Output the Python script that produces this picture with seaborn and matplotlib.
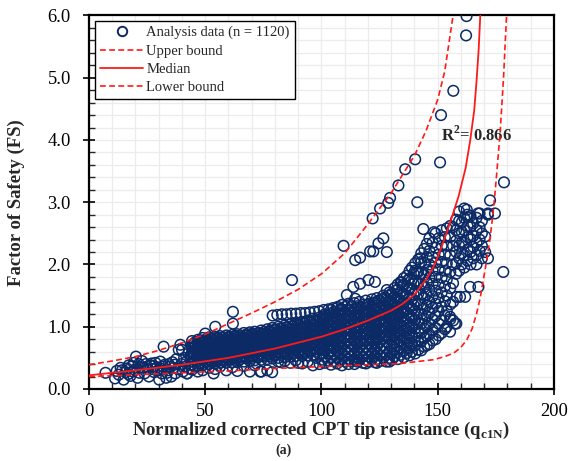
import matplotlib
matplotlib.use("Agg")
import matplotlib.pyplot as plt
from matplotlib.lines import Line2D
from matplotlib.ticker import MultipleLocator, FormatStrFormatter
import pandas as pd
import seaborn as sns

# ---- values ----
# sparse cluster at low tip resistance
low_pts = [(7.1, 0.26), (11.2, 0.17), (11.9, 0.29), (12.8, 0.23), (13.6, 0.34), (14.2, 0.30),
           (14.9, 0.15), (15.7, 0.27), (16.3, 0.33), (16.9, 0.24), (17.1, 0.38), (17.8, 0.21),
           (18.4, 0.36), (18.9, 0.28), (19.2, 0.42), (19.6, 0.31), (20.2, 0.52), (20.9, 0.18),
           (21.4, 0.40), (21.7, 0.26), (22.1, 0.35), (22.8, 0.45), (23.3, 0.34), (23.9, 0.25),
           (24.4, 0.40), (24.9, 0.36), (25.1, 0.32), (25.8, 0.20), (26.3, 0.38), (26.9, 0.41),
           (27.4, 0.32), (27.8, 0.37), (28.1, 0.27), (28.6, 0.42), (29.3, 0.35), (29.8, 0.30),
           (30.2, 0.15), (30.7, 0.44), (30.9, 0.33), (31.3, 0.25), (31.8, 0.36), (32.1, 0.68),
           (32.6, 0.39), (33.2, 0.18), (33.6, 0.26), (33.8, 0.30), (34.3, 0.40), (34.9, 0.36),
           (35.4, 0.20), (35.9, 0.43), (36.4, 0.34), (36.8, 0.39), (37.1, 0.25), (37.6, 0.48),
           (38.2, 0.32), (38.6, 0.63), (39.3, 0.71), (39.7, 0.40), (40.0, 0.63), (40.4, 0.28),
           (40.9, 0.50), (41.5, 0.36), (42.1, 0.45), (42.2, 0.25), (42.7, 0.57), (43.2, 0.33),
           (43.6, 0.52)]

# main band, one column of FS values per qc1N value
band_a = [(44.3, [0.31, 0.39, 0.44, 0.52, 0.58, 0.66, 0.71, 0.77]),
          (45.6, [0.36, 0.47, 0.55, 0.62, 0.69, 0.75]),
          (46.8, [0.28, 0.37, 0.45, 0.51, 0.60, 0.67, 0.73, 0.79]),
          (48.1, [0.41, 0.49, 0.57, 0.64, 0.71, 0.78]),
          (48.9, [0.30, 0.38, 0.46, 0.54, 0.61, 0.68, 0.76, 0.82]),
          (50.4, [0.43, 0.52, 0.59, 0.66, 0.74, 0.80]),
          (51.6, [0.34, 0.40, 0.48, 0.56, 0.63, 0.70, 0.77, 0.83]),
          (52.9, [0.44, 0.53, 0.60, 0.68, 0.75, 0.81]),
          (54.2, [0.32, 0.41, 0.49, 0.57, 0.64, 0.71, 0.78, 0.84]),
          (55.3, [0.45, 0.54, 0.62, 0.69, 0.76, 0.82]),
          (56.4, [0.36, 0.42, 0.50, 0.58, 0.65, 0.72, 0.79, 0.85]),
          (57.8, [0.46, 0.55, 0.63, 0.70, 0.77, 0.83]),
          (59.1, [0.30, 0.42, 0.50, 0.59, 0.66, 0.73, 0.80, 0.86]),
          (60.4, [0.47, 0.56, 0.64, 0.71, 0.78, 0.84]),
          (61.7, [0.35, 0.43, 0.51, 0.60, 0.67, 0.74, 0.81, 0.87]),
          (62.9, [0.47, 0.56, 0.65, 0.72, 0.79, 0.85]),
          (63.8, [0.29, 0.43, 0.52, 0.61, 0.68, 0.75, 0.82, 0.88]),
          (65.2, [0.48, 0.57, 0.66, 0.73, 0.80, 0.86]),
          (66.6, [0.37, 0.44, 0.53, 0.62, 0.69, 0.76, 0.83, 0.90]),
          (67.9, [0.49, 0.58, 0.66, 0.74, 0.81, 0.88]),
          (69.2, [0.28, 0.45, 0.54, 0.62, 0.70, 0.77, 0.84, 0.91]),
          (70.3, [0.50, 0.59, 0.67, 0.75, 0.82, 0.89]),
          (71.3, [0.38, 0.46, 0.55, 0.63, 0.71, 0.78, 0.86, 0.92]),
          (72.8, [0.51, 0.60, 0.68, 0.76, 0.84, 0.90]),
          (74.1, [0.28, 0.47, 0.56, 0.64, 0.72, 0.80, 0.87, 0.94]),
          (75.4, [0.52, 0.61, 0.69, 0.77, 0.85, 0.92]),
          (76.7, [0.30, 0.48, 0.57, 0.65, 0.73, 0.81, 0.89, 0.96]),
          (77.6, [0.53, 0.62, 0.70, 0.79, 0.87, 0.93]),
          (78.8, [0.27, 0.49, 0.58, 0.66, 0.75, 0.83, 0.90, 0.98])]

band_b = [(80.2, [0.54, 0.63, 0.71, 0.80, 0.88, 0.95]),
          (81.4, [0.44, 0.50, 0.59, 0.68, 0.76, 0.84, 0.92, 1.00]),
          (82.7, [0.55, 0.64, 0.72, 0.81, 0.89, 0.97]),
          (84.2, [0.45, 0.51, 0.60, 0.69, 0.77, 0.86, 0.94, 1.02]),
          (85.3, [0.56, 0.65, 0.73, 0.82, 0.90, 0.99]),
          (86.6, [0.42, 0.52, 0.61, 0.70, 0.79, 0.87, 0.96, 1.04]),
          (87.9, [0.57, 0.66, 0.75, 0.84, 0.92, 1.01]),
          (88.9, [0.46, 0.53, 0.62, 0.71, 0.80, 0.89, 0.98, 1.06]),
          (90.3, [0.58, 0.67, 0.76, 0.85, 0.94, 1.03]),
          (91.7, [0.41, 0.53, 0.63, 0.72, 0.81, 0.90, 0.99, 1.08]),
          (92.8, [0.58, 0.68, 0.77, 0.86, 0.96, 1.05]),
          (94.1, [0.44, 0.54, 0.64, 0.73, 0.83, 0.92, 1.01, 1.10]),
          (95.4, [0.60, 0.69, 0.79, 0.88, 0.98, 1.07]),
          (96.3, [0.38, 0.55, 0.65, 0.74, 0.84, 0.93, 1.03, 1.13]),
          (97.7, [0.50, 0.60, 0.70, 0.80, 0.89, 0.99, 1.09]),
          (99.2, [0.40, 0.55, 0.65, 0.75, 0.85, 0.95, 1.05, 1.15]),
          (100.6, [0.47, 0.57, 0.67, 0.77, 0.87, 0.97, 1.07, 1.16]),
          (101.4, [0.42, 0.52, 0.62, 0.72, 0.82, 0.92, 1.02, 1.12, 1.20]),
          (102.8, [0.46, 0.57, 0.67, 0.77, 0.87, 0.97, 1.08, 1.18]),
          (104.1, [0.39, 0.50, 0.60, 0.70, 0.80, 0.90, 1.00, 1.10, 1.20, 1.27]),
          (105.3, [0.45, 0.55, 0.65, 0.75, 0.86, 0.96, 1.06, 1.16, 1.24]),
          (106.7, [0.41, 0.50, 0.60, 0.70, 0.80, 0.90, 1.00, 1.11, 1.21, 1.30]),
          (107.9, [0.46, 0.56, 0.66, 0.76, 0.86, 0.96, 1.07, 1.17, 1.27]),
          (108.8, [0.38, 0.48, 0.58, 0.68, 0.78, 0.88, 0.98, 1.08, 1.18, 1.28, 1.35]),
          (110.2, [0.44, 0.53, 0.63, 0.73, 0.83, 0.94, 1.04, 1.14, 1.24, 1.32]),
          (111.6, [0.40, 0.48, 0.58, 0.68, 0.78, 0.88, 0.98, 1.08, 1.18, 1.28, 1.37]),
          (112.9, [0.45, 0.53, 0.63, 0.73, 0.83, 0.93, 1.03, 1.13, 1.23, 1.33]),
          (114.2, [0.40, 0.47, 0.57, 0.67, 0.77, 0.87, 0.97, 1.07, 1.17, 1.27, 1.38]),
          (115.4, [0.44, 0.52, 0.62, 0.72, 0.82, 0.92, 1.02, 1.12, 1.22, 1.33]),
          (116.3, [0.47, 0.57, 0.67, 0.77, 0.87, 0.97, 1.07, 1.17, 1.28, 1.40]),
          (117.8, [0.42, 0.52, 0.62, 0.72, 0.82, 0.92, 1.02, 1.13, 1.24, 1.35]),
          (119.1, [0.41, 0.47, 0.57, 0.67, 0.77, 0.87, 0.97, 1.08, 1.19, 1.30, 1.42])]

band_c = [(120.4, [0.44, 0.52, 0.62, 0.72, 0.82, 0.93, 1.04, 1.15, 1.26, 1.37]),
          (121.7, [0.48, 0.58, 0.68, 0.78, 0.88, 0.99, 1.10, 1.21, 1.32, 1.44]),
          (122.9, [0.43, 0.53, 0.63, 0.73, 0.84, 0.95, 1.06, 1.17, 1.28, 1.39]),
          (123.8, [0.42, 0.48, 0.58, 0.68, 0.79, 0.90, 1.01, 1.12, 1.23, 1.34, 1.46]),
          (125.2, [0.45, 0.54, 0.64, 0.75, 0.86, 0.97, 1.08, 1.19, 1.30, 1.42]),
          (126.6, [0.50, 0.60, 0.70, 0.81, 0.92, 1.03, 1.14, 1.25, 1.37, 1.50]),
          (127.9, [0.44, 0.55, 0.65, 0.76, 0.87, 0.98, 1.10, 1.21, 1.33, 1.45]),
          (129.2, [0.44, 0.50, 0.60, 0.71, 0.82, 0.93, 1.05, 1.17, 1.29, 1.41, 1.55]),
          (130.3, [0.47, 0.57, 0.68, 0.79, 0.91, 1.03, 1.15, 1.27, 1.40, 1.52]),
          (131.4, [0.52, 0.63, 0.74, 0.86, 0.98, 1.10, 1.22, 1.35, 1.48, 1.62]),
          (132.8, [0.48, 0.59, 0.70, 0.82, 0.94, 1.07, 1.20, 1.33, 1.46, 1.60, 1.68]),
          (134.1, [0.55, 0.66, 0.78, 0.90, 1.02, 1.15, 1.28, 1.42, 1.56, 1.72]),
          (135.4, [0.51, 0.62, 0.74, 0.86, 0.99, 1.12, 1.25, 1.39, 1.53, 1.67, 1.78]),
          (136.7, [0.58, 0.70, 0.82, 0.95, 1.08, 1.22, 1.36, 1.50, 1.65, 1.82]),
          (137.9, [0.54, 0.66, 0.78, 0.91, 1.04, 1.18, 1.32, 1.47, 1.62, 1.77, 1.90]),
          (138.9, [0.60, 0.73, 0.86, 1.00, 1.14, 1.29, 1.44, 1.60, 1.76, 1.95]),
          (140.3, [0.57, 0.70, 0.83, 0.97, 1.11, 1.26, 1.41, 1.57, 1.73, 1.90, 2.02]),
          (141.6, [0.63, 0.77, 0.91, 1.06, 1.21, 1.37, 1.53, 1.70, 1.88, 2.08]),
          (142.9, [0.62, 0.76, 0.90, 1.05, 1.20, 1.36, 1.52, 1.69, 1.86, 2.04, 2.18]),
          (144.2, [0.68, 0.82, 0.97, 1.13, 1.29, 1.46, 1.64, 1.83, 2.03, 2.25]),
          (145.3, [0.70, 0.85, 1.01, 1.17, 1.34, 1.52, 1.71, 1.91, 2.12, 2.33]),
          (146.4, [0.72, 0.88, 1.05, 1.22, 1.40, 1.59, 1.79, 2.00, 2.22, 2.42]),
          (147.8, [0.78, 0.95, 1.12, 1.30, 1.49, 1.69, 1.90, 2.12, 2.35]),
          (149.1, [0.80, 0.98, 1.17, 1.37, 1.58, 1.80, 2.03, 2.27, 2.50]),
          (150.4, [0.86, 1.05, 1.25, 1.46, 1.68, 1.92, 2.16, 2.42]),
          (151.7, [0.90, 1.10, 1.32, 1.55, 1.79, 2.04, 2.30, 2.55]),
          (153.1, [0.96, 1.18, 1.41, 1.65, 1.90, 2.16, 2.44]),
          (153.9, [1.00, 1.25, 1.50, 1.76, 2.02, 2.30, 2.58]),
          (155.4, [1.12, 1.36, 1.62, 1.88, 2.15, 2.44, 2.62]),
          (156.6, [1.10, 1.40, 1.70, 2.00, 2.30, 2.60]),
          (157.9, [1.85, 2.02, 2.20, 2.38, 2.55, 2.72]),
          (159.2, [1.90, 2.10, 2.30, 2.50, 2.70, 2.85]),
          (160.4, [2.00, 2.18, 2.36, 2.52, 2.68]),
          (161.4, [1.95, 2.15, 2.35, 2.55, 2.75, 2.90]),
          (162.8, [2.06, 2.24, 2.44, 2.62, 2.80]),
          (164.1, [2.00, 2.20, 2.40, 2.60, 2.78]),
          (165.3, [2.10, 2.28, 2.46, 2.66]),
          (166.7, [2.00, 2.15, 2.35, 2.55, 2.75]),
          (168.0, [2.22, 2.40, 2.60, 2.82]),
          (169.0, [2.10, 2.30, 2.50, 2.70]),
          (170.4, [2.20, 2.45]),
          (171.6, [2.10, 2.80])]

# extra points filling the densest upper half of the band
band_d = [(45.0, [0.58, 0.65, 0.72]),
          (47.5, [0.55, 0.63, 0.70, 0.76]),
          (50.0, [0.50, 0.57, 0.64, 0.71, 0.78]),
          (52.3, [0.45, 0.52, 0.59, 0.66, 0.73, 0.80]),
          (54.8, [0.46, 0.53, 0.60, 0.67, 0.74, 0.81]),
          (57.1, [0.47, 0.54, 0.61, 0.68, 0.75, 0.82]),
          (59.8, [0.48, 0.55, 0.62, 0.69, 0.76, 0.83]),
          (62.3, [0.49, 0.56, 0.63, 0.70, 0.77, 0.84]),
          (64.6, [0.50, 0.57, 0.64, 0.71, 0.78, 0.85]),
          (67.2, [0.51, 0.58, 0.65, 0.72, 0.79, 0.86]),
          (69.8, [0.52, 0.59, 0.66, 0.73, 0.80, 0.87]),
          (72.1, [0.53, 0.60, 0.67, 0.74, 0.81, 0.88]),
          (74.7, [0.54, 0.61, 0.68, 0.75, 0.82, 0.89]),
          (77.2, [0.55, 0.62, 0.69, 0.77, 0.85, 0.92]),
          (79.6, [0.56, 0.64, 0.72, 0.80, 0.88, 0.95]),
          (82.1, [0.57, 0.65, 0.73, 0.81, 0.89, 0.97]),
          (84.7, [0.58, 0.66, 0.74, 0.83, 0.91, 0.99]),
          (87.2, [0.59, 0.67, 0.76, 0.85, 0.93, 1.01]),
          (89.6, [0.60, 0.69, 0.78, 0.87, 0.96, 1.04]),
          (92.2, [0.61, 0.70, 0.80, 0.89, 0.98, 1.06]),
          (94.8, [0.62, 0.72, 0.82, 0.91, 1.00, 1.08]),
          (97.1, [0.63, 0.73, 0.83, 0.93, 1.02, 1.11]),
          (99.8, [0.64, 0.74, 0.84, 0.94, 1.04, 1.13]),
          (102.2, [0.66, 0.76, 0.86, 0.96, 1.06, 1.15]),
          (104.7, [0.68, 0.78, 0.88, 0.98, 1.08, 1.18]),
          (107.3, [0.70, 0.80, 0.90, 1.00, 1.10, 1.20]),
          (109.6, [0.72, 0.82, 0.93, 1.03, 1.13, 1.23]),
          (112.3, [0.73, 0.84, 0.95, 1.05, 1.16, 1.26]),
          (114.8, [0.75, 0.86, 0.97, 1.08, 1.19, 1.30]),
          (117.1, [0.77, 0.88, 0.99, 1.10, 1.21, 1.32]),
          (119.7, [0.79, 0.90, 1.01, 1.12, 1.23, 1.35]),
          (122.3, [0.80, 0.92, 1.04, 1.15, 1.27, 1.38]),
          (124.6, [0.82, 0.94, 1.06, 1.18, 1.30, 1.42]),
          (127.3, [0.84, 0.97, 1.09, 1.22, 1.34, 1.47]),
          (129.8, [0.86, 0.99, 1.12, 1.25, 1.38, 1.52]),
          (132.1, [0.90, 1.03, 1.17, 1.31, 1.45, 1.58]),
          (134.7, [0.94, 1.08, 1.23, 1.37, 1.52, 1.66]),
          (137.3, [0.98, 1.13, 1.28, 1.44, 1.60, 1.75]),
          (139.6, [1.03, 1.19, 1.35, 1.52, 1.69, 1.85])]

# row of points just above the band
row_pts = [(79.0, 1.18), (81.0, 1.19), (83.0, 1.20), (85.0, 1.20), (87.0, 1.21), (89.0, 1.21),
           (91.0, 1.22), (93.0, 1.22), (95.0, 1.23), (97.0, 1.24), (99.0, 1.25), (101.0, 1.27),
           (103.0, 1.28), (105.0, 1.30), (107.0, 1.32)]

# scattered points away from the main band
outlier_pts = [(50.0, 0.89), (54.3, 1.00), (61.9, 1.05), (61.9, 1.24), (87.3, 1.75),
               (42.2, 0.25), (53.6, 0.25), (73.7, 0.28), (82.5, 0.43), (90.0, 0.42),
               (110.9, 1.51), (113.7, 1.64), (114.5, 1.45), (116.6, 1.69), (120.2, 1.75),
               (123.0, 1.72), (128.1, 1.59), (134.5, 1.71),
               (109.5, 2.30), (114.5, 2.07), (116.6, 2.11), (120.9, 2.21), (122.3, 2.21),
               (124.5, 2.34), (126.6, 2.42), (128.1, 2.20), (122.0, 2.74), (125.2, 2.90),
               (128.7, 2.99), (129.5, 3.07), (133.1, 3.27), (136.0, 3.53), (140.3, 3.69),
               (141.2, 3.00), (151.0, 3.64), (151.4, 4.40), (156.7, 4.79), (162.4, 5.99),
               (162.2, 5.68), (178.5, 3.32), (172.5, 3.03), (174.6, 2.82), (178.2, 1.88),
               (143.8, 2.57), (148.4, 2.52), (142.4, 2.10), (141.0, 1.88),
               (162.5, 2.88), (162.8, 2.76), (167.3, 2.82), (171.6, 2.82),
               (163.9, 1.64), (167.5, 1.64), (158.2, 1.48), (161.8, 1.48), (159.6, 1.48),
               (157.4, 1.05), (155.3, 1.16), (155.3, 0.92), (158.0, 1.05)]

# fitted curves
median_q = [0, 20, 40, 60, 80, 100, 110, 120, 125, 130, 135, 140, 145, 148, 150, 153, 156,
            159, 162, 164, 165.7, 166.7, 167.6, 168.3]
median_fs = [0.22, 0.30, 0.39, 0.50, 0.65, 0.84, 0.96, 1.10, 1.18, 1.26, 1.37, 1.52, 1.76,
             1.95, 2.12, 2.42, 2.75, 3.10, 3.55, 4.00, 4.48, 4.95, 5.45, 6.00]
upper_q = [0, 10, 20, 30, 40, 50, 60, 70, 80, 90, 100, 110, 120, 130, 135, 140, 145, 150,
           153, 156.6]
upper_fs = [0.39, 0.45, 0.52, 0.62, 0.74, 0.88, 1.05, 1.22, 1.40, 1.60, 1.85, 2.18, 2.65,
            3.15, 3.45, 3.75, 4.15, 4.65, 5.10, 6.00]
lower_q = [0, 20, 40, 60, 80, 100, 120, 134, 148, 153, 157, 160, 162.5, 164.8, 166.7, 168.3,
           169.6, 171, 172.5, 173.8, 175, 176.8, 178.3, 179.6]
lower_fs = [0.20, 0.23, 0.26, 0.29, 0.33, 0.36, 0.39, 0.41, 0.47, 0.52, 0.58, 0.67, 0.79,
            0.97, 1.21, 1.47, 1.75, 2.05, 2.42, 2.82, 3.30, 4.10, 5.00, 6.00]

n_total = 1120
r2 = 0.866

# ---- assemble ----
pts = list(low_pts)
for cols in (band_a, band_b, band_c, band_d):
    pts += [(q, fs) for q, ys in cols for fs in ys]
pts += row_pts + outlier_pts
df = pd.DataFrame(pts, columns=["qc1N", "FS"])

navy = "#0b2a66"
red = "#ff1a1a"

sns.set_style("white")
plt.rcParams["font.family"] = ["Liberation Serif", "DejaVu Serif"]
plt.rcParams["mathtext.fontset"] = "custom"
plt.rcParams["mathtext.rm"] = "Liberation Serif"
plt.rcParams["mathtext.bf"] = "Liberation Serif:bold"

fig = plt.figure(figsize=(5.69, 4.61), dpi=100)
ax = fig.add_axes([0.1564, 0.1562, 0.8172, 0.8102])

sns.scatterplot(data=df, x="qc1N", y="FS", ax=ax, marker="o", s=58,
                facecolor="none", edgecolor=navy, linewidth=1.1, zorder=3)
dash = (0, (3.5, 2))
sns.lineplot(x=upper_q, y=upper_fs, ax=ax, color=red, lw=1.2, linestyle=dash, sort=False,
             estimator=None, zorder=4)
sns.lineplot(x=median_q, y=median_fs, ax=ax, color=red, lw=1.3, sort=False,
             estimator=None, zorder=4)
sns.lineplot(x=lower_q, y=lower_fs, ax=ax, color=red, lw=1.2, linestyle=dash, sort=False,
             estimator=None, zorder=4)

ax.set_xlim(0, 200)
ax.set_ylim(0, 6)
ax.xaxis.set_major_locator(MultipleLocator(50))
ax.xaxis.set_minor_locator(MultipleLocator(10))
ax.yaxis.set_major_locator(MultipleLocator(1))
ax.yaxis.set_minor_locator(MultipleLocator(0.2))
ax.yaxis.set_major_formatter(FormatStrFormatter("%.1f"))
ax.grid(which="both", color="#ececec", lw=0.9)
ax.set_axisbelow(True)
ax.tick_params(which="major", direction="inout", length=8, width=1.2, labelsize=13.3,
               colors="black", bottom=True, left=True)
ax.tick_params(axis="y", which="major", pad=9)
ax.tick_params(axis="x", which="major", pad=6)
ax.tick_params(which="minor", direction="in", length=4, width=1.0, bottom=True, left=True)
for s in ax.spines.values():
    s.set_linewidth(1.6)
    s.set_color("black")

ax.set_xlabel("Normalized corrected CPT tip resistance (q$_{\\mathbf{c1N}}$)",
              fontsize=13.5, fontweight="bold", labelpad=0)
ax.set_ylabel("Factor of Safety (FS)", fontsize=13.5, fontweight="bold")
ax.yaxis.set_label_coords(-0.137, 0.5)
fig.text(0.4991, 0.024, "(a)", ha="center", va="center", fontsize=10, fontweight="bold")
ax.text(151.4, 4.08, f"R$^{{\\mathbf{{2}}}}$= {r2:.3f}", fontsize=12, fontweight="bold",
        va="center", ha="left")

handles = [Line2D([], [], ls="none", marker="o", markersize=6.8, markerfacecolor="none",
                  markeredgecolor=navy, markeredgewidth=1.4),
           Line2D([], [], color=red, lw=1.2, ls=dash),
           Line2D([], [], color=red, lw=1.3),
           Line2D([], [], color=red, lw=1.2, ls=dash)]
labels = [f"Analysis data (n = {n_total})", "Upper bound", "Median", "Lower bound"]
leg = ax.legend(handles, labels, loc="upper left", bbox_to_anchor=(0.012, 0.986),
                fontsize=10.5, frameon=True, fancybox=False, handlelength=3.0,
                handletextpad=0.2, borderpad=0.35, labelspacing=0.35, borderaxespad=0)
leg.get_frame().set_edgecolor("black")
leg.get_frame().set_linewidth(1.0)
leg.get_frame().set_alpha(1)

fig.savefig("out.png", dpi=100)
